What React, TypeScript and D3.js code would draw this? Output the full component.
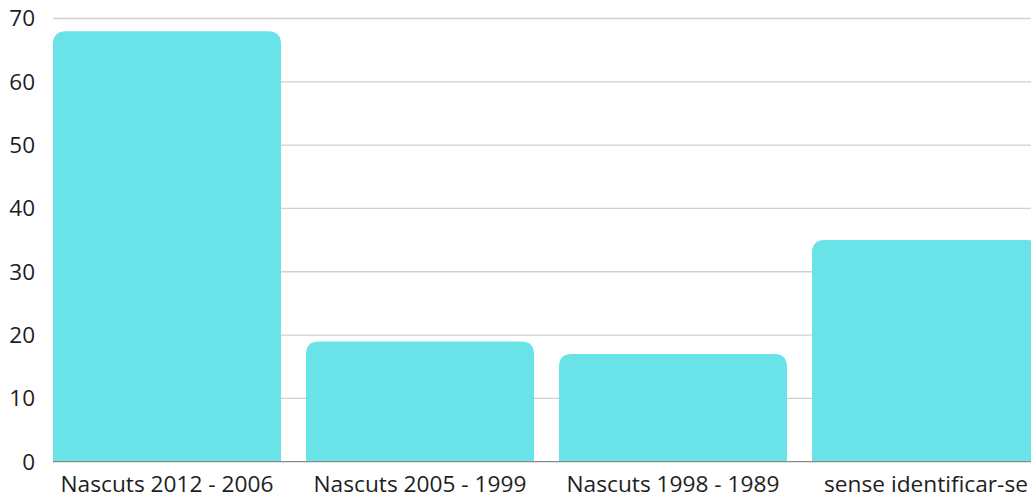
import React from "react";
import * as d3 from "d3";

const categories = ["Nascuts 2012 - 2006", "Nascuts 2005 - 1999", "Nascuts 1998 - 1989", "sense identificar-se"];
const values = [68, 19, 17, 35];
const yTicks = [0, 10, 20, 30, 40, 50, 60, 70];

const W = 1031;
const H = 497;

function topRoundedRect(x: number, y: number, w: number, h: number, r: number) {
  const rr = Math.min(r, w / 2, h);
  return `M${x},${y + h}V${y + rr}Q${x},${y} ${x + rr},${y}H${x + w - rr}Q${x + w},${y} ${x + w},${y + rr}V${y + h}Z`;
}

export default function App() {
  const x = d3.scaleBand<string>().domain(categories).range([53, 1040]).paddingInner(25 / 253).paddingOuter(0);
  const y = d3.scaleLinear().domain([0, 70]).range([461.7, 18.5]);
  const font = "'Open Sans', sans-serif";
  return (
    <svg width={W} height={H} style={{ position: "fixed", left: 0, top: 0, background: "#fff" }}>
      {yTicks.map((t) => (
        <g key={t}>
          {t > 0 && <line x1={53} x2={W} y1={y(t)} y2={y(t)} stroke="#cfcfcf" strokeWidth={1.3} />}
          <text x={35} y={y(t)} dy="0.35em" textAnchor="end" fontFamily={font} fontSize={22.5} fill="#1e1e1e">
            {t}
          </text>
        </g>
      ))}
      {categories.map((c, i) => (
        <path
          key={c}
          d={topRoundedRect(x(c)!, y(values[i]), x.bandwidth(), y(0) - y(values[i]), 13)}
          fill="#6ae3e8"
        />
      ))}
      <line x1={53} x2={W} y1={y(0)} y2={y(0)} stroke="#8a8a8a" strokeWidth={1.3} />
      {categories.map((c) => (
        <text key={c} x={x(c)! + x.bandwidth() / 2} y={492} textAnchor="middle" fontFamily={font} fontSize={22.7} fill="#1e1e1e">
          {c}
        </text>
      ))}
    </svg>
  );
}
